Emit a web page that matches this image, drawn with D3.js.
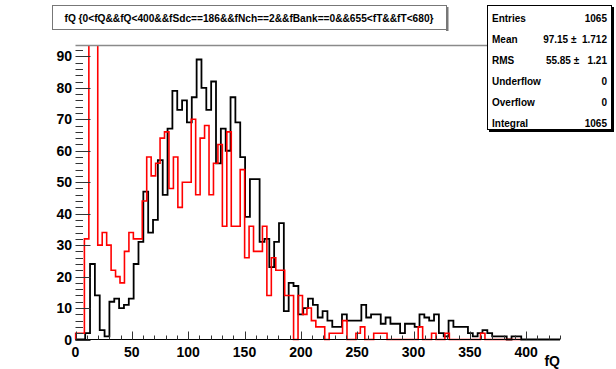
<!DOCTYPE html>
<html>
<head>
<meta charset="utf-8">
<script src="https://cdn.jsdelivr.net/npm/d3@7/dist/d3.min.js"></script>
<style>
  html, body { margin: 0; padding: 0; background: #fff; }
  svg { display: block; }
  text { font-family: "Liberation Sans", Arial, Helvetica, sans-serif; font-weight: bold; }
</style>
</head>
<body>
<svg id="chart" width="616" height="369"></svg>
<script>
// Histogram binning (100 bins each)
const blackRange = [0, 430];
const redRange = [0, 395];

// Counts per bin, first histogram (black)
const blackCounts = [
  0, 0, 2, 24, 14, 3, 1, 12, 13, 10,
  11, 13, 24, 31, 47, 34, 38, 57, 46, 67,
  79, 73, 76, 69, 77, 89, 80, 73, 82, 56,
  67, 60, 77, 69, 58, 39, 51, 51, 31, 32,
  23, 31, 37, 9, 18, 17, 8, 10, 13, 11,
  7, 9, 6, 4, 4, 8, 6, 6, 6, 11,
  7, 8, 8, 5, 7, 5, 5, 2, 5, 5,
  4, 8, 7, 6, 8, 2, 1, 6, 4, 4,
  4, 2, 1, 2, 3, 2, 1, 1, 1, 0,
  1, 1, 0, 0, 0, 0, 0, 0, 0, 0
];

// Counts per bin, second histogram (red, drawn "same")
const redCounts = [
  2, 2, 32, 120, 120, 30, 34, 30, 22, 20,
  18, 28, 34, 32, 32, 44, 58, 52, 56, 64,
  66, 48, 58, 42, 50, 50, 70, 46, 64, 68,
  46, 56, 62, 36, 66, 36, 36, 54, 26, 36,
  28, 28, 36, 14, 26, 22, 22, 14, 14, 0,
  14, 8, 10, 6, 4, 4, 0, 2, 2, 2,
  6, 0, 0, 2, 4, 0, 0, 2, 2, 2,
  0, 0, 0, 0, 0, 0, 0, 4, 0, 0,
  2, 0, 0, 2, 0, 0, 0, 0, 0, 0,
  0, 2, 0, 0, 0, 0, 0, 0, 0, 0
];

const xTickLabels = [0, 50, 100, 150, 200, 250, 300, 350, 400];
const yTickLabels = [0, 10, 20, 30, 40, 50, 60, 70, 80, 90];

const titleText = "fQ {0<fQ&&fQ<400&&fSdc==186&&fNch==2&&fBank==0&&655<fT&&fT<680}";
const statLabels = ["Entries", "Mean", "RMS", "Underflow", "Overflow", "Integral"];
const statValues = ["1065", "97.15 \u00b1  1.712", "55.85 \u00b1   1.21", "0", "0", "1065"];

const svg = d3.select("#chart");
svg.append("rect").attr("width", 616).attr("height", 369).attr("fill", "#fff");

const plot = { left: 75.5, right: 560, top: 45.5, bottom: 339.5 };
const x = d3.scaleLinear().domain([0, 430]).range([plot.left, plot.right]);
const y = d3.scaleLinear().domain([0, 93.45]).range([plot.bottom, plot.top]);

svg.append("clipPath").attr("id", "frameClip")
  .append("rect")
  .attr("x", plot.left - 1).attr("y", plot.top)
  .attr("width", plot.right - plot.left + 2).attr("height", plot.bottom - plot.top + 2);

// Step outline of a histogram, from the left edge on the baseline to the right edge
function stepPoints(counts, range) {
  const n = counts.length;
  const w = (range[1] - range[0]) / n;
  const pts = [[range[0], 0]];
  counts.forEach((c, i) => {
    const lo = range[0] + i * w, hi = lo + w;
    pts.push([lo, c], [hi, c]);
  });
  pts.push([range[1], 0]);
  return pts;
}
const line = d3.line().x(d => x(d[0])).y(d => y(d[1]));

const g = svg.append("g").attr("clip-path", "url(#frameClip)");
g.append("path")
  .attr("d", line(stepPoints(blackCounts, blackRange)))
  .attr("fill", "none").attr("stroke", "#000").attr("stroke-width", 1.8)
  .attr("stroke-linejoin", "miter");
g.append("path")
  .attr("d", line(stepPoints(redCounts, redRange)))
  .attr("fill", "none").attr("stroke", "#ff0000").attr("stroke-width", 1.6)
  .attr("stroke-linejoin", "miter");

// Frame top edge
svg.append("line")
  .attr("x1", plot.left).attr("x2", 487).attr("y1", plot.top).attr("y2", plot.top)
  .attr("stroke", "#8a8a8a").attr("stroke-width", 1.6);

// X axis
const xAxis = svg.append("g");
xAxis.append("line")
  .attr("x1", plot.left).attr("x2", plot.right)
  .attr("y1", plot.bottom).attr("y2", plot.bottom)
  .attr("stroke", "#000").attr("stroke-width", 1.2);
d3.range(0, 431, 10).forEach(v => {
  const major = v % 50 === 0;
  xAxis.append("line")
    .attr("x1", Math.round(x(v)) + 0.5).attr("x2", Math.round(x(v)) + 0.5)
    .attr("y1", plot.bottom).attr("y2", plot.bottom - (major ? 8 : 4))
    .attr("stroke", "#333").attr("stroke-width", 1);
});
xAxis.selectAll("text.xl").data(xTickLabels).enter().append("text")
  .attr("x", d => x(d)).attr("y", 357)
  .attr("text-anchor", "middle").attr("font-size", 14)
  .text(d => d);
xAxis.append("text")
  .attr("x", plot.right).attr("y", 366)
  .attr("text-anchor", "end").attr("font-size", 14)
  .text("fQ");

// Y axis (ticks point into the frame)
const yAxis = svg.append("g");
d3.range(0, 93, 2).forEach(v => {
  const major = v % 10 === 0;
  const yy = Math.round(y(v)) + 0.5;
  yAxis.append("line")
    .attr("x1", plot.left).attr("x2", plot.left + (major ? 15 : 7.5))
    .attr("y1", yy).attr("y2", yy)
    .attr("stroke", "#333").attr("stroke-width", 1);
});
yAxis.selectAll("text.yl").data(yTickLabels).enter().append("text")
  .attr("x", 72).attr("y", d => y(d) + 5)
  .attr("text-anchor", "end").attr("font-size", 14)
  .text(d => d);

// Title box
const tb = svg.append("g");
tb.append("rect").attr("x", 446).attr("y", 7).attr("width", 2.5).attr("height", 24).attr("fill", "#777");
tb.append("rect").attr("x", 52.5).attr("y", 5.5).attr("width", 394).attr("height", 24)
  .attr("fill", "#fff").attr("stroke", "#777").attr("stroke-width", 1);
tb.append("text")
  .attr("x", 249).attr("y", 21.5)
  .attr("text-anchor", "middle").attr("font-size", 10.5)
  .attr("textLength", 369).attr("lengthAdjust", "spacingAndGlyphs")
  .text(titleText);

// Statistics box
const sb = svg.append("g");
sb.append("rect").attr("x", 489).attr("y", 7).attr("width", 125).attr("height", 125).attr("fill", "#000");
sb.append("rect").attr("x", 487.5).attr("y", 5.5).attr("width", 124).attr("height", 124)
  .attr("fill", "#fff").attr("stroke", "#000").attr("stroke-width", 1);
statLabels.forEach((lab, i) => {
  const yy = 22 + i * 21;
  sb.append("text").attr("x", 492).attr("y", yy).attr("font-size", 10).text(lab);
  sb.append("text").attr("x", 607).attr("y", yy).attr("text-anchor", "end")
    .attr("font-size", 10).attr("xml:space", "preserve").style("white-space", "pre")
    .text(statValues[i]);
});
</script>
</body>
</html>
